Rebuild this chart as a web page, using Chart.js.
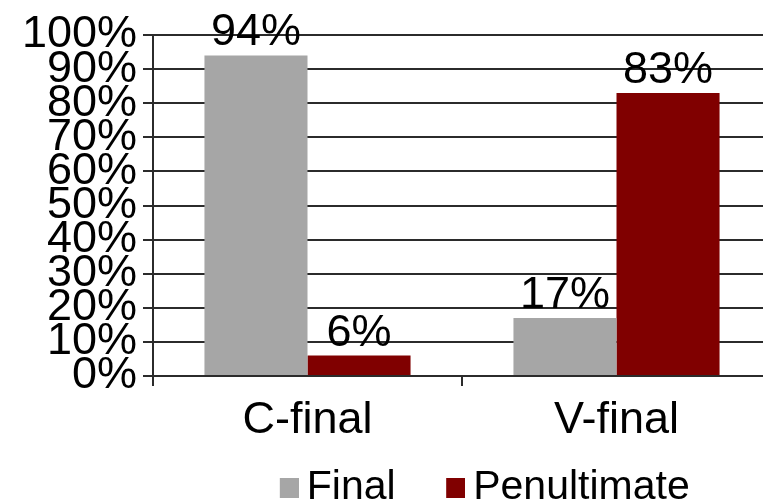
<!DOCTYPE html>
<html>
<head>
<meta charset="utf-8">
<script src="https://cdn.jsdelivr.net/npm/chart.js@4.4.1/dist/chart.umd.min.js"></script>
<style>
  html, body { margin: 0; padding: 0; background: #fff; width: 763px; height: 503px; overflow: hidden; }
  canvas { display: block; }
</style>
</head>
<body>
<canvas id="c" width="929" height="518"></canvas>
<script>
// Share of stress placement by word type
const categories = ['C-final', 'V-final'];
const seriesNames = ['Final', 'Penultimate'];
const finalValues = [94, 17];
const penultimateValues = [6, 83];
const yTickLabels = ['0%', '10%', '20%', '30%', '40%', '50%', '60%', '70%', '80%', '90%', '100%'];
const seriesColors = ['#a6a6a6', '#800000'];

const FONT = "'Liberation Sans', Arial, sans-serif";
Chart.defaults.font.family = FONT;
Chart.defaults.color = '#000';

const LINE = '#2b2b2b';
const LEGEND_BOX = 47;   // legend box slot width

// Legend swatch: a square sitting close to its label text
function makeSwatch(color) {
  const c = document.createElement('canvas');
  c.width = LEGEND_BOX + 25;
  c.height = 20;
  const g = c.getContext('2d');
  g.fillStyle = color;
  g.fillRect(c.width - 19, 0, 19, 20);
  return c;
}
const swatches = seriesColors.map(makeSwatch);

// Percent labels above each bar
const valueLabels = {
  id: 'valueLabels',
  afterDatasetsDraw(chart) {
    const ctx = chart.ctx;
    ctx.save();
    ctx.font = '45px ' + FONT;
    ctx.fillStyle = '#000';
    ctx.textAlign = 'center';
    ctx.textBaseline = 'alphabetic';
    chart.data.datasets.forEach((ds, i) => {
      chart.getDatasetMeta(i).data.forEach((bar, j) => {
        ctx.fillText(ds.data[j] + '%', bar.x, bar.y - 10);
      });
    });
    ctx.restore();
  }
};

new Chart(document.getElementById('c'), {
  type: 'bar',
  data: {
    labels: categories,
    datasets: [
      { label: seriesNames[0], data: finalValues, backgroundColor: seriesColors[0] },
      { label: seriesNames[1], data: penultimateValues, backgroundColor: seriesColors[1] }
    ]
  },
  options: {
    responsive: false,
    animation: false,
    layout: { padding: { top: 35, left: 0, right: 0, bottom: 0 } },
    datasets: { bar: { categoryPercentage: 0.667, barPercentage: 1.0, borderWidth: 0 } },
    scales: {
      x: {
        grid: { drawOnChartArea: false, drawTicks: true, tickLength: 10, color: LINE, lineWidth: 2 },
        border: { display: true, color: LINE, width: 2 },
        ticks: { font: { size: 45 }, color: '#000', padding: 8, maxRotation: 0, autoSkip: false },
        afterFit(s) { s.height = 81; }
      },
      y: {
        min: 0,
        max: 100,
        grid: { color: LINE, lineWidth: 2, tickLength: 10 },
        border: { display: true, color: LINE, width: 2 },
        ticks: {
          stepSize: 10,
          autoSkip: false,
          padding: 6,
          font: { size: 45 },
          color: '#000',
          callback: (v, i) => yTickLabels[i]
        },
        afterFit(s) { s.width = 153; }
      },
      spare: {
        position: 'right',
        grid: { display: false },
        border: { display: false },
        ticks: { display: false },
        afterFit(s) { s.width = 158; }
      }
    },
    plugins: {
      tooltip: { enabled: false },
      legend: {
        position: 'bottom',
        labels: {
          font: { size: 41 },
          color: '#000',
          padding: 10,
          usePointStyle: true,
          pointStyleWidth: LEGEND_BOX,
          boxHeight: 20,
          generateLabels(chart) {
            const items = Chart.defaults.plugins.legend.labels.generateLabels(chart);
            items.forEach((it, i) => { it.pointStyle = swatches[i]; });
            return items;
          }
        }
      }
    }
  },
  plugins: [valueLabels]
});
</script>
</body>
</html>
